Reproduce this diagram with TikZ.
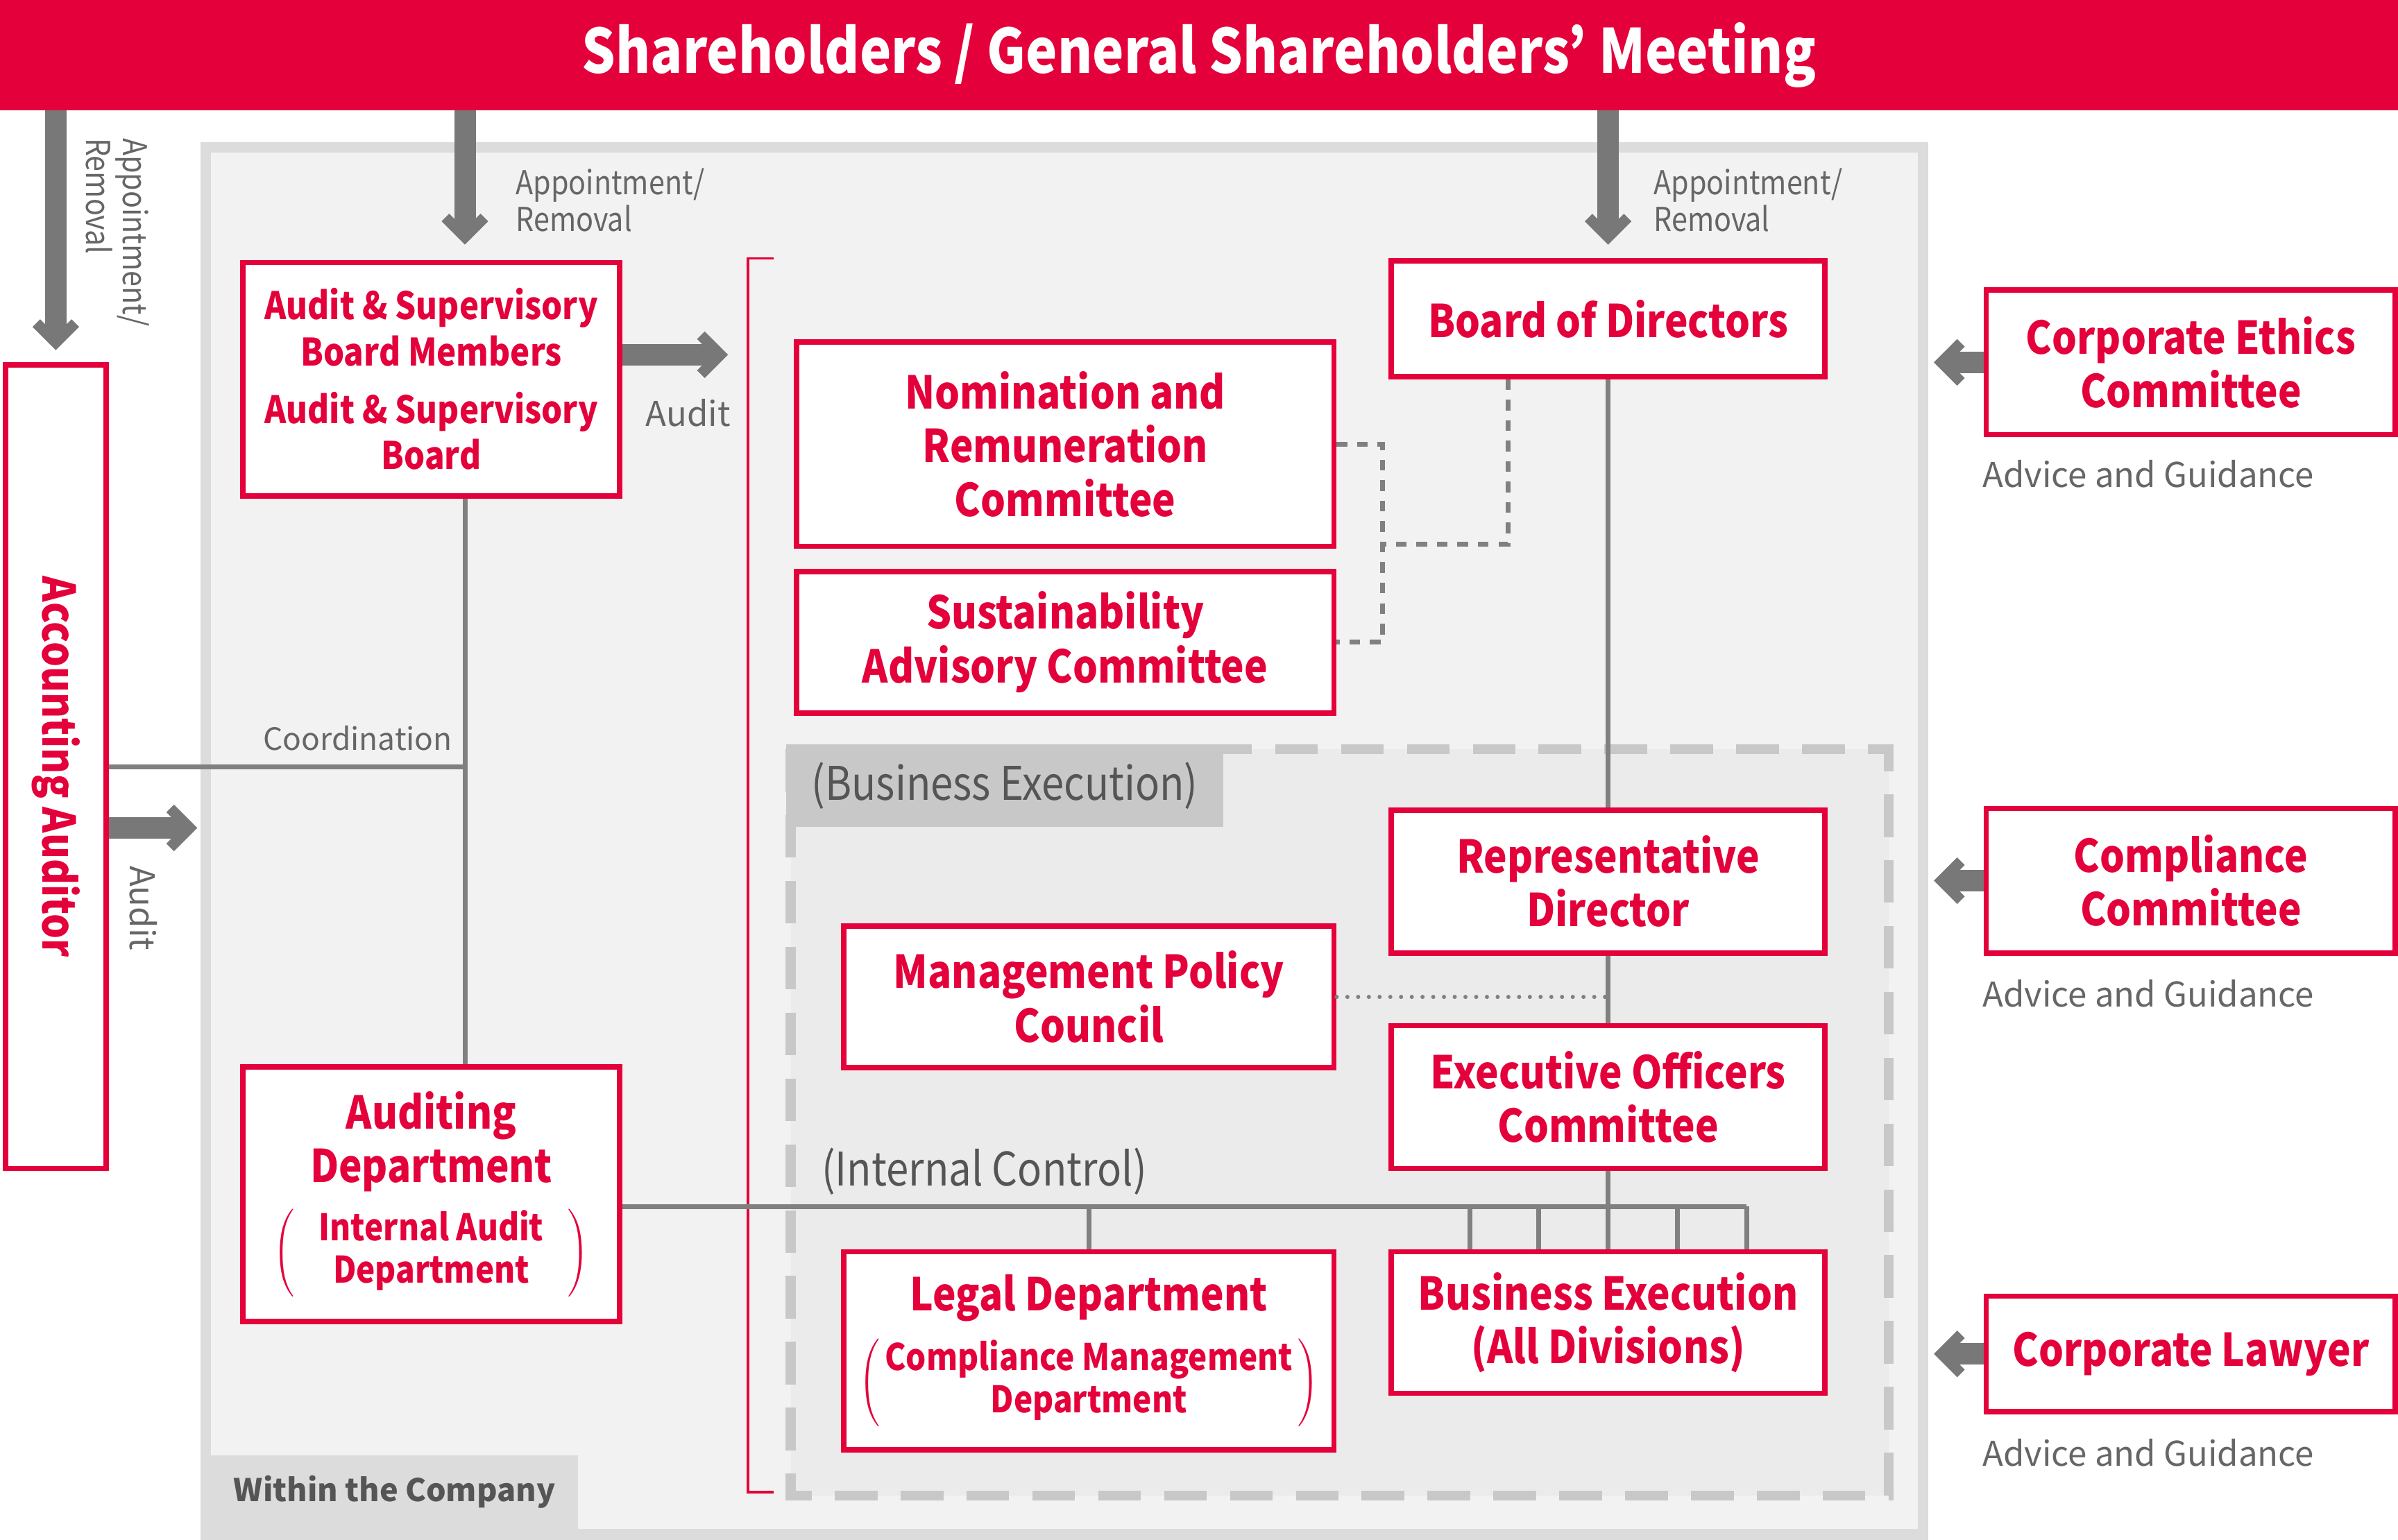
\documentclass[tikz,border=0pt]{standalone}
\usepackage{fontspec}
\usepackage{graphicx}
\setmainfont{Noto Sans CJK JP}
\newfontfamily\cfont{Noto Sans CJK JP}[FakeStretch=0.87]
\usetikzlibrary{arrows.meta, positioning}

\definecolor{jred}{HTML}{E4003A}
\definecolor{argray}{HTML}{787878}
\definecolor{lngray}{HTML}{808080}
\definecolor{txgray}{HTML}{666666}
\definecolor{dkgray}{HTML}{555555}
\definecolor{frgray}{HTML}{DCDCDC}
\definecolor{bggray}{HTML}{F2F2F2}
\definecolor{exgray}{HTML}{EBEBEB}
\definecolor{dsgray}{HTML}{C8C8C8}

\newcommand{\px}{0.02204cm}

\begin{document}
\begin{tikzpicture}[x=0.02204cm, y=-0.02204cm,
    orgbox/.style={draw=jred, line width=2.2pt, fill=white, text=jred, align=center, inner sep=0pt, font=\cfont\bfseries\fontsize{18.5}{22}\selectfont},
    note/.style={text=txgray, inner sep=0pt, font=\fontsize{14}{15}\selectfont},
    cnote/.style={text=txgray, inner sep=0pt, font=\cfont\fontsize{13.5}{15}\selectfont},
    areatext/.style={text=dkgray, inner sep=0pt, font=\cfont\fontsize{19}{22}\selectfont},
    bigarrow/.style={argray, line width=8.8pt, -{Straight Barb[length=8pt, width=16pt, line width=4.4pt]}},
    link/.style={lngray, line width=2pt},
    dashlink/.style={lngray, line width=2pt, dash pattern=on 4.4pt off 4pt},
    dotlink/.style={lngray, line width=1.7pt, line cap=round, dash pattern=on 0pt off 4.4pt}]
  \useasboundingbox (0,0) rectangle (1568,1007);

  % Within the Company
  \draw[frgray, line width=4.4pt, fill=bggray] (134.5,96.5) rectangle (1257.5,1003.5);
  \node[fill=frgray, minimum width=240*\px, minimum height=48*\px, inner sep=0pt, text=dkgray, font=\bfseries\fontsize{12.8}{15}\selectfont] (within) at (258,976) {Within the Company};

  % Business Execution area
  \draw[dsgray, line width=4pt, dash pattern=on 17.5pt off 9.5pt, fill=exgray] (517,490) rectangle (1235,978);
  \node[fill=dsgray, minimum width=286*\px, minimum height=54*\px, inner sep=0pt] (bexlabel) at (657,514) {};
  \node[areatext] at (bexlabel) {(Business Execution)};
  \node[areatext, anchor=west] (iclabel) at (537,766) {(Internal Control)};

  % audit bracket
  \draw[jred, line width=1pt] (506,169) -- (489,169) -- (489,976) -- (506,976);

  % top banner
  \node[fill=jred, minimum width=1568*\px, minimum height=72*\px, inner sep=0pt, text=white, font=\cfont\bfseries\fontsize{25}{30}\selectfont] (banner) at (784,36) {Shareholders / General Shareholders’ Meeting};

  % boxes
  \node[orgbox, minimum width=65.5*\px, minimum height=525.5*\px] (acc) at (36.5,501.5) {\rotatebox{-90}{Accounting Auditor}};
  \node[orgbox, minimum width=246.5*\px, minimum height=152.5*\px, font=\cfont\bfseries\fontsize{15.5}{19}\selectfont] (asb) at (282,248) {Audit \& Supervisory\\Board Members\\[4.4pt]Audit \& Supervisory\\Board};
  \node[orgbox, minimum width=246.5*\px, minimum height=166.5*\px] (aud) at (282,781) {Auditing\\Department\\[6pt]{\fontsize{15}{17.5}\selectfont$\left(\hspace{10pt}\begin{tabular}{@{}c@{}}Internal Audit\\Department\end{tabular}\hspace{10pt}\right)$}};
  \node[orgbox, minimum width=283.5*\px, minimum height=75.5*\px] (bod) at (1051.5,208.5) {Board of Directors};
  \node[orgbox, minimum width=351.5*\px, minimum height=133.5*\px] (nom) at (696.5,290.5) {Nomination and\\Remuneration\\Committee};
  \node[orgbox, minimum width=351.5*\px, minimum height=92.5*\px] (sus) at (696.5,420) {Sustainability\\Advisory Committee};
  \node[orgbox, minimum width=283.5*\px, minimum height=93.5*\px] (rep) at (1051.5,576.5) {Representative\\Director};
  \node[orgbox, minimum width=320.5*\px, minimum height=92.5*\px] (mpc) at (712,652) {Management Policy\\Council};
  \node[orgbox, minimum width=283.5*\px, minimum height=93.5*\px] (eoc) at (1051.5,717.5) {Executive Officers\\Committee};
  \node[orgbox, minimum width=320.5*\px, minimum height=129.5*\px] (legal) at (712,883.5) {Legal Department\\[6pt]{\fontsize{15}{17.5}\selectfont$\left(\hspace{2pt}\begin{tabular}{@{}c@{}}Compliance Management\\Department\end{tabular}\hspace{2pt}\right)$}};
  \node[orgbox, minimum width=283.5*\px, minimum height=92.5*\px] (bex) at (1051.5,865) {Business Execution\\(All Divisions)};
  \node[orgbox, minimum width=267.5*\px, minimum height=94.5*\px] (ethics) at (1432.5,237) {Corporate Ethics\\Committee};
  \node[orgbox, minimum width=267.5*\px, minimum height=94.5*\px] (comp) at (1432.5,576) {Compliance\\Committee};
  \node[orgbox, minimum width=267.5*\px, minimum height=75.5*\px] (lawyer) at (1432.5,885.5) {Corporate Lawyer};

  % labels
  \node[cnote, rotate=-90, align=left, anchor=west] (apracc) at (77,90) {Appointment/\\Removal};
  \node[cnote, align=left, anchor=west] (aprasb) at (337,131) {Appointment/\\Removal};
  \node[cnote, align=left, anchor=west] (aprbod) at (1081,131) {Appointment/\\Removal};
  \node[note, anchor=west] (auditasb) at (422,270) {Audit};
  \node[note, rotate=-90] (auditacc) at (94,594) {Audit};
  \node[note, anchor=east, font=\fontsize{12.6}{15}\selectfont] (coord) at (296,483) {Coordination};
  \node[note, anchor=west] (adv1) at (1296,310) {Advice and Guidance};
  \node[note, anchor=west] (adv2) at (1296,650) {Advice and Guidance};
  \node[note, anchor=west] (adv3) at (1296,950) {Advice and Guidance};

  % helper coordinates
  \coordinate (spine) at (304,0);
  \coordinate (dotx) at (904,0);
  \coordinate (bodtap) at (986,0);
  \coordinate (dotjoin) at (904,356);
  \coordinate (frameR) at (1264.5,0);
  \coordinate (asbtip) at (476,232);
  \coordinate (acctip) at (129,541.5);

  % appointment / audit arrows
  \draw[bigarrow, shorten >=5pt] (banner.south -| acc.north) -- (acc.north);
  \draw[bigarrow, shorten >=6.3pt] (banner.south -| spine) -- (asb.north -| spine);
  \draw[bigarrow, shorten >=5.6pt] (banner.south -| bod.north) -- (bod.north);
  \draw[bigarrow] (asb.east |- asbtip) -- (asbtip);
  \draw[bigarrow] (acc.east |- acctip) -- (acctip);
  \draw[bigarrow] (ethics.west) -- (ethics.west -| frameR);
  \draw[bigarrow] (comp.west) -- (comp.west -| frameR);
  \draw[bigarrow] (lawyer.west) -- (lawyer.west -| frameR);

  % committees
  \draw[dashlink] (nom.east) -| (dotx |- sus.east) -- (sus.east);
  \draw[dashlink] (bod.south -| bodtap) |- (dotjoin);

  % reporting lines
  \draw[link] (asb.south -| spine) -- (aud.north -| spine);
  \draw[link] (acc.east) -- (acc.east -| spine);
  \draw[link] (bod.south) -- (rep.north);
  \draw[link] (rep.south) -- (eoc.north);
  \draw[link] (eoc.south) -- (bex.north);
  \draw[dotlink] (mpc.east) -- (mpc.east -| rep.south);

  % internal control
  \draw[link] (aud.east |- 0,789) -- (1142,789);
  \draw[link] (712,789) -- (legal.north);
  \foreach \dx in {961,1006,1097,1142}
    \draw[link] (\dx,789) -- (bex.north -| \dx,0);
\end{tikzpicture}
\end{document}
